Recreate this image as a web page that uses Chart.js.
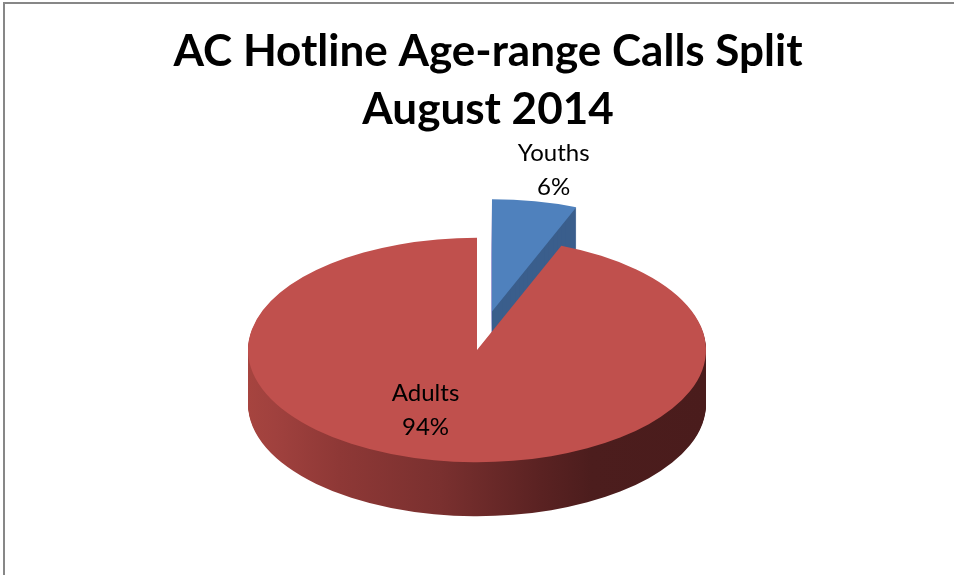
<!DOCTYPE html>
<html>
<head>
<meta charset="utf-8">
<title>AC Hotline Age-range Calls Split</title>
<script src="https://cdn.jsdelivr.net/npm/chart.js@4.4.0/dist/chart.umd.min.js"></script>
<style>
    html, body { margin: 0; padding: 0; background: #fff; overflow: hidden; }
    #frame { position: absolute; left: 3px; top: 2px; width: 980px; height: 600px;
             border-top: 2px solid #878787; border-left: 2px solid #878787; }
    #wrap { position: absolute; left: 0; top: 0; width: 954px; height: 575px; }
</style>
</head>
<body>
<div id="frame"></div>
<div id="wrap"><canvas id="callsChart"></canvas></div>
<script>
// Calls to the AC hotline split by age range
const ageGroups = ['Youths', 'Adults'];
const callShares = [6, 94]; // percent of calls
const titleLines = ['AC Hotline Age-range Calls Split', 'August 2014'];

// Colours of the top faces and the sides
const topColors = ['#4F81BD', '#C0504D'];
const youthSide = '#3A5E8C';

// 3D look of the pie
const tilt = 0.49;      // vertical squash of the face
const depth = 54;       // thickness in px
const viewShiftX = -11; // pie sits a little left of the title
const explode = [80, 0]; // how far each slice is pulled out, px

// Where each label goes: fraction of radius along the slice middle, plus a nudge
const labelPlace = [
    { r: 1.6, dx: 8, dy: -3 },
    { r: 0.57, dx: -27, dy: -3 }
];

// Put the canvas into the tilted view, dy pixels below the face
function project(ctx, arc, i, dy) {
    const mid = (arc.startAngle + arc.endAngle) / 2;
    const ex = Math.cos(mid) * explode[i];
    const ey = Math.sin(mid) * explode[i] * tilt;
    ctx.translate(arc.x + viewShiftX + ex, arc.y + dy + ey);
    ctx.scale(1, tilt);
    ctx.translate(-arc.x, -arc.y);
}

// Side fill of a slice (the big one gets a light-to-dark sweep)
function sideFill(ctx, arc, i) {
    if (i === 0) return youthSide;
    const r = arc.outerRadius;
    const g = ctx.createLinearGradient(arc.x - r, 0, arc.x + r, 0);
    g.addColorStop(0, '#A6443F');
    g.addColorStop(0.06, '#A0413E');
    g.addColorStop(0.2, '#8E3836');
    g.addColorStop(0.42, '#7A302F');
    g.addColorStop(0.64, '#5A2222');
    g.addColorStop(0.75, '#4C1D1D');
    g.addColorStop(1, '#4A1C1C');
    return g;
}

const pie3d = {
    id: 'pie3d',
    beforeDatasetDraw(chart, args) {
        const ctx = chart.ctx;
        args.meta.data.forEach((arc, i) => {
            const opts = arc.options;
            // stack copies of the slice downwards for the side walls
            arc.options = Object.assign({}, opts, { backgroundColor: sideFill(ctx, arc, i) });
            for (let d = depth; d > 0; d--) {
                ctx.save();
                project(ctx, arc, i, d);
                arc.draw(ctx);
                ctx.restore();
            }
            arc.options = opts;
            // top face
            ctx.save();
            project(ctx, arc, i, 0);
            arc.draw(ctx);
            ctx.restore();
        });
        return false; // already drawn
    },
    afterDatasetsDraw(chart) {
        const ctx = chart.ctx;
        const meta = chart.getDatasetMeta(0);
        const total = callShares.reduce((a, b) => a + b, 0);
        ctx.save();
        ctx.font = '24px Lato';
        ctx.fillStyle = '#000';
        ctx.textAlign = 'center';
        ctx.textBaseline = 'middle';
        meta.data.forEach((arc, i) => {
            const mid = (arc.startAngle + arc.endAngle) / 2;
            const place = labelPlace[i];
            const r = arc.outerRadius * place.r;
            const x = arc.x + viewShiftX + Math.cos(mid) * r + place.dx;
            const y = arc.y + Math.sin(mid) * r * tilt + place.dy;
            const pct = Math.round(callShares[i] / total * 100) + '%';
            ctx.fillText(ageGroups[i], x, y - 17);
            ctx.fillText(pct, x, y + 17);
        });
        ctx.restore();
    }
};

new Chart(document.getElementById('callsChart'), {
    type: 'pie',
    data: {
        labels: ageGroups,
        datasets: [{
            data: callShares,
            backgroundColor: topColors,
            borderWidth: 0
        }]
    },
    options: {
        responsive: true,
        maintainAspectRatio: false,
        animation: false,
        events: [],
        radius: 229,
        layout: { padding: { left: 22, right: 0, top: 0, bottom: 14 } },
        plugins: {
            legend: { display: false },
            tooltip: { enabled: false },
            title: {
                display: true,
                text: titleLines,
                color: '#000',
                font: { family: 'Lato', size: 44, weight: 'bold', lineHeight: 1.318 },
                padding: { top: 23, bottom: 0 }
            }
        }
    },
    plugins: [pie3d]
});
</script>
</body>
</html>
